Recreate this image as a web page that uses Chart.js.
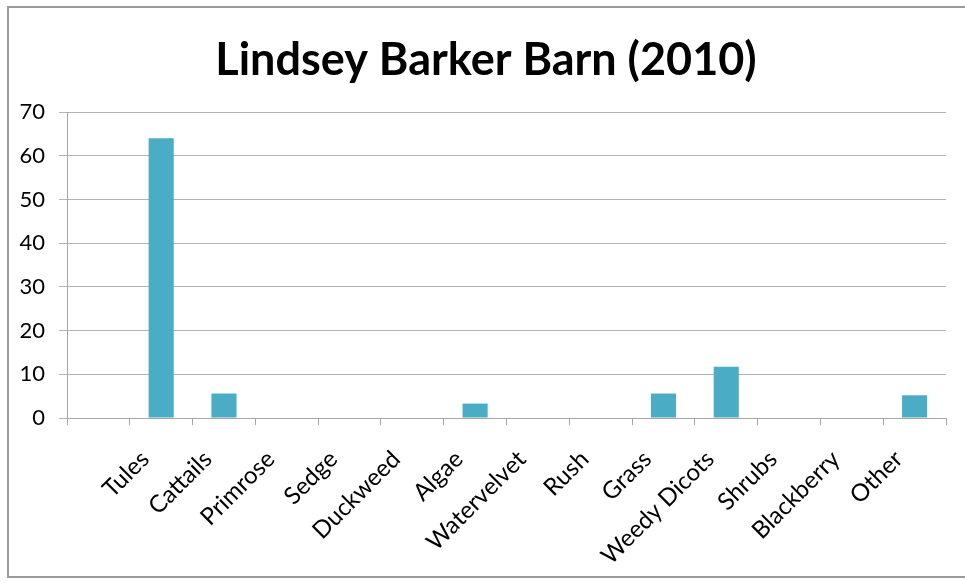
<!doctype html>
<html lang="en">
  <head>
    <meta charset="utf-8">
    <title>Lindsey Barker Barn (2010)</title>
    <style>
      * { margin: 0; padding: 0; }
      body { background: white; }
      .chartBox { width: 965px; height: 584px; }
    </style>
  </head>
  <body>
    <div class="chartBox">
      <canvas id="myChart" width="965" height="584"></canvas>
    </div>

    <script src="https://cdn.jsdelivr.net/npm/chart.js/dist/chart.umd.min.js"></script>
    <script>
    // data
    const categories = ['', 'Tules', 'Cattails', 'Primrose', 'Sedge', 'Duckweed', 'Algae',
      'Watervelvet', 'Rush', 'Grass', 'Weedy Dicots', 'Shrubs', 'Blackberry', 'Other'];
    const counts = [null, 64, 5.6, 0, 0, 0, 3.3, 0, 0, 5.6, 11.7, 0, 0, 5.2];
    const yTicks = [0, 10, 20, 30, 40, 50, 60, 70];

    const font = "Lato, 'Open Sans', sans-serif";

    // white background + outer frame like the Excel chart
    const frame = {
      id: 'frame',
      beforeDraw: (chart) => {
        const { ctx, width, height } = chart;
        ctx.save();
        ctx.fillStyle = 'white';
        ctx.fillRect(0, 0, width, height);
        ctx.strokeStyle = '#9a9a9a';
        ctx.lineWidth = 2;
        ctx.strokeRect(8, 7, width + 10, 570);
        ctx.restore();
      },
      // title sits a bit right of the padded box in the original
      afterLayout: (chart) => {
        const t = chart.titleBlock;
        if (t) { t.left += 13; t.right += 13; }
      }
    };

    const config = {
      type: 'bar',
      data: {
        labels: categories,
        datasets: [{
          data: counts,
          backgroundColor: '#4BACC6',
          categoryPercentage: 1,
          barPercentage: 0.4
        }]
      },
      options: {
        responsive: false,
        animation: false,
        layout: { padding: { left: 0, right: 19, top: 0, bottom: 0 } },
        plugins: {
          legend: { display: false },
          tooltip: { enabled: false },
          title: {
            display: true,
            text: 'Lindsey Barker Barn (2010)',
            color: '#000',
            font: { family: font, size: 45, weight: 'bold', lineHeight: 1.2 },
            padding: { top: 33, bottom: 25 }
          }
        },
        scales: {
          x: {
            offset: true,
            grid: {
              display: true,
              offset: true,
              drawOnChartArea: false,
              drawTicks: true,
              tickLength: 7,
              color: '#a6a6a6'
            },
            border: { color: '#a6a6a6', width: 1 },
            ticks: {
              minRotation: 45,
              maxRotation: 45,
              autoSkip: false,
              color: '#000',
              padding: 20,
              labelOffset: -16,
              font: { family: font, size: 24 }
            },
            afterFit: (scale) => { scale.height = 166; }
          },
          y: {
            min: 0,
            max: 70,
            afterBuildTicks: (scale) => {
              scale.ticks = yTicks.map(v => ({ value: v }));
            },
            grid: {
              color: '#b3b3b3',
              tickLength: 8,
              drawTicks: true
            },
            border: { color: '#a6a6a6', width: 1 },
            ticks: {
              color: '#000',
              padding: 14,
              font: { family: font, size: 22 }
            },
            afterFit: (scale) => { scale.width = 67; }
          }
        }
      },
      plugins: [frame]
    };

    const myChart = new Chart(document.getElementById('myChart'), config);
    </script>
  </body>
</html>
